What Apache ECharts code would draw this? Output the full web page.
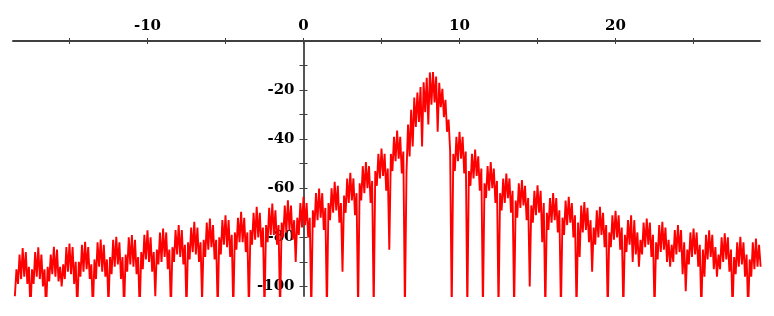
<!DOCTYPE html>
<html>
<head>
<meta charset="utf-8">
<script src="https://cdn.jsdelivr.net/npm/echarts@6/dist/echarts.min.js"></script>
<style>
html,body{margin:0;padding:0;background:#fff;}
#chart{width:774px;height:316px;}
</style>
</head>
<body>
<div id="chart"></div>
<script>
// Sampling grid of the spectrum (x units), one sample every 0.1
const xStart = -18.5;
const xStep = 0.1;

// Levels (dB), side lobes -18 .. 6 (10 samples per lobe)
const levelLeft = [
  -104, -93, -99, -87, -97, -84.4, -96, -86, -99, -92,
  -110, -93, -99, -86, -96, -84.1, -97, -87, -100, -93,
  -110, -92, -98, -87, -95, -83.9, -96, -85, -98, -92,
  -100, -91, -97, -84, -94, -82.5, -95, -84, -99, -90,
  -110, -90, -96, -83, -94, -81.8, -93, -84, -97, -91,
  -110, -89, -97, -82, -92, -80.9, -94, -83, -96, -89,
  -108, -88, -95, -81, -92, -79.8, -91, -82, -97, -88,
  -110, -87, -94, -80, -91, -79.1, -92, -81, -95, -88,
  -110, -86, -93, -79, -89, -77.1, -90, -80, -94, -86,
  -104, -85, -91, -78, -90, -76.4, -88, -78, -93, -85,
  -110, -84, -90, -77, -87, -75.0, -88, -77, -91, -83,
  -110, -82, -89, -76, -86, -73.7, -87, -76, -90, -82,
  -106, -81, -88, -74, -85, -72.3, -84, -75, -89, -81,
  -110, -80, -87, -73, -83, -71.0, -84, -73, -88, -79,
  -110, -78, -85, -72, -82, -69.6, -82, -72, -86, -78,
  -110, -77, -83, -70, -81, -67.6, -80, -70, -84, -76,
  -110, -75, -82, -68, -79, -66.2, -79, -69, -83, -75,
  -110, -74, -80, -67, -78, -64.9, -77, -67, -81, -73,
  -90, -72, -79, -66, -76, -63.5, -75, -66, -80, -72,
  -110, -69, -76, -62, -73, -60.1, -72, -62, -77, -68,
  -110, -66, -73, -60, -70, -57.4, -69, -59, -74, -66,
  -94, -63, -70, -56, -66, -53.7, -65, -56, -71, -62,
  -110, -58, -65, -51, -62, -49.3, -60, -51, -66, -57,
  -110, -53, -59, -46, -56, -43.8, -55, -46, -61, -52,
  -85, -46, -53, -39, -49, -36.5, -48, -39, -54, -45
];

// Main lobe, 6.5 .. 9.4
const levelMain = [
  -110, -54, -34, -47, -28, -43, -23, -35, -21, -33,
  -18.8, -43, -16.8, -29, -15, -34, -12.8, -26, -12.6, -25,
  -14.5, -37, -17, -27, -19.5, -31, -24, -37, -32, -45
];

// Side lobes 10 .. 29
const levelRight = [
  -110, -46, -53, -39, -49, -37.0, -48, -39, -54, -45,
  -110, -53, -59, -46, -56, -44.2, -55, -47, -61, -52,
  -110, -58, -64, -51, -61, -49.3, -60, -52, -66, -57,
  -110, -62, -69, -56, -66, -54.0, -64, -56, -70, -61,
  -110, -65, -72, -58, -68, -56.7, -67, -59, -73, -64,
  -100, -67, -74, -61, -71, -58.8, -70, -61, -82, -66,
  -110, -70, -77, -64, -74, -62.0, -73, -64, -78, -69,
  -110, -72, -79, -65, -75, -63.5, -74, -66, -80, -71,
  -110, -74, -88, -67, -78, -65.6, -77, -68, -82, -73,
  -94, -76, -83, -69, -80, -67.6, -79, -70, -84, -75,
  -110, -78, -84, -71, -81, -69.2, -80, -71, -85, -76,
  -110, -79, -86, -73, -83, -71.0, -90, -73, -87, -78,
  -92, -81, -87, -74, -84, -72.3, -83, -74, -88, -79,
  -110, -82, -89, -75, -86, -73.7, -85, -76, -90, -81,
  -92, -83, -90, -77, -87, -75.0, -86, -77, -95, -82,
  -102, -85, -91, -78, -88, -76.4, -87, -78, -92, -83,
  -110, -85, -96, -79, -89, -77.1, -88, -79, -93, -84,
  -96, -87, -93, -80, -90, -78.4, -89, -80, -94, -85,
  -110, -88, -95, -82, -92, -79.8, -91, -82, -96, -87,
  -110, -89, -96, -82, -93, -80.5, -92, -83, -92
];

const xTicks = [-15, -10, -5, 0, 5, 10, 15, 20, 25];
const xLabels = [-10, 0, 10, 20];
const yTicks = [-10, -20, -30, -40, -50, -60, -70, -80, -90, -100];
const yLabels = [-20, -40, -60, -80, -100];

const levels = levelLeft.concat(levelMain, levelRight);
const points = levels.map((v, i) => [Math.round((xStart + xStep * i) * 100) / 100, v]);

const labelFont = {
  fontFamily: 'DejaVu Serif',
  fontWeight: 'bold',
  fontSize: 15,
  color: '#000'
};

// y axis drawn at x = 0 : shift it right from the grid's left edge
const gridLeft = 13, gridWidth = 747, xMin = -18.62, xMax = 29.26;
const yAxisShift = -(0 - xMin) / (xMax - xMin) * gridWidth;

const chart = echarts.init(document.getElementById('chart'), null, {renderer: 'canvas'});
chart.setOption({
  animation: false,
  backgroundColor: '#ffffff',
  grid: {left: gridLeft, width: gridWidth, top: 41, bottom: 20, containLabel: false, outerBoundsMode: 'none'},
  xAxis: [
    {
      type: 'value', position: 'top', min: xMin, max: xMax,
      axisLine: {show: true, onZero: false, lineStyle: {color: '#404040', width: 2}},
      axisTick: {show: true, inside: false, length: 3, customValues: xTicks, lineStyle: {color: '#404040', width: 1}},
      axisLabel: Object.assign({show: true, margin: 7, customValues: xLabels}, labelFont),
      splitLine: {show: false}
    },
    {
      type: 'value', position: 'top', min: xMin, max: xMax,
      axisLine: {show: false, onZero: false},
      axisTick: {show: true, inside: true, length: 3, customValues: xTicks, lineStyle: {color: '#404040', width: 1}},
      axisLabel: {show: false},
      splitLine: {show: false}
    }
  ],
  yAxis: [
    {
      type: 'value', position: 'left', offset: yAxisShift, min: -103.9, max: 0,
      axisLine: {show: true, onZero: false, lineStyle: {color: '#555555', width: 2}},
      axisTick: {show: true, inside: false, length: 4, customValues: yTicks, lineStyle: {color: '#404040', width: 1}},
      axisLabel: Object.assign({show: true, margin: 9, customValues: yLabels}, labelFont),
      splitLine: {show: false}
    },
    {
      type: 'value', position: 'left', offset: yAxisShift, min: -103.9, max: 0,
      axisLine: {show: false, onZero: false},
      axisTick: {show: true, inside: true, length: 4, customValues: yTicks, lineStyle: {color: '#404040', width: 1}},
      axisLabel: {show: false},
      splitLine: {show: false}
    }
  ],
  series: [{
    type: 'line',
    xAxisIndex: 0,
    yAxisIndex: 0,
    data: points,
    showSymbol: false,
    symbol: 'none',
    clip: true,
    sampling: null,
    lineStyle: {color: '#ff0000', width: 1.9},
    z: 5
  }]
});
</script>
</body>
</html>
